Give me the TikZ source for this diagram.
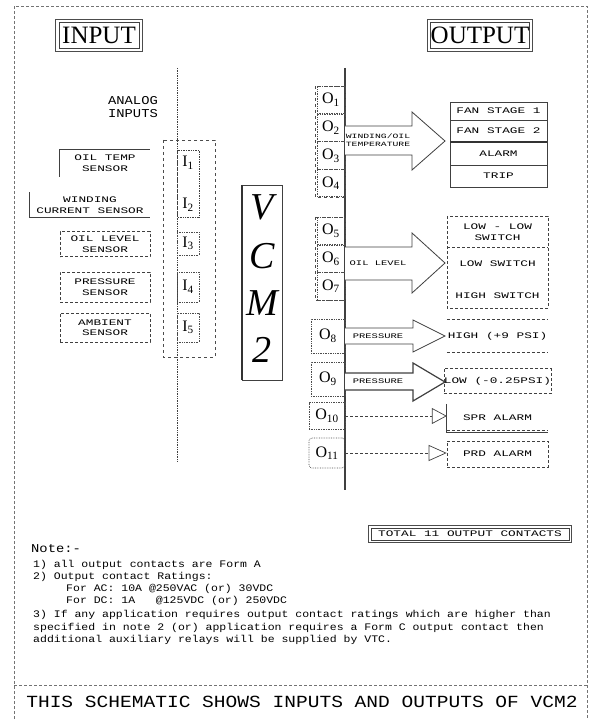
\documentclass[tikz,border=0pt]{standalone}
\usepackage{fontspec}
\setmainfont{Liberation Serif}
\newfontfamily\cadS[FakeStretch=1.5]{Liberation Mono}
\newfontfamily\cadN[FakeStretch=1.15]{Liberation Mono}
\newcommand\fsz[1]{\fontsize{#1}{#1}\selectfont}
\usetikzlibrary{arrows.meta}
\begin{document}
\begin{tikzpicture}[x=1pt,y=-1pt,
  ln/.style={draw=black!75,line width=0.7pt},
  frame/.style={draw=black!55,line width=0.9pt,densely dashed},
  grp/.style={draw=black!70,line width=0.7pt,dashed},
  obox/.style={draw=black!70,line width=0.7pt,densely dotted,minimum width=28pt,minimum height=27.7pt,inner sep=0pt,font=\fsz{16}},
  ilab/.style={inner sep=0pt,font=\fsz{16}},
  small/.style={inner sep=0pt,align=center,font=\cadS\fsz{8.5}},
  tgt/.style={minimum width=97pt,inner sep=0pt,align=center,font=\cadS\fsz{8.5}},
  blk/.style={draw=black!75,line width=0.8pt,fill=white},
  note/.style={anchor=west,inner sep=0pt,font=\cadN\fsz{10}},
  headbox/.style={draw=black!75,line width=0.7pt,minimum height=26pt,inner sep=0pt,font=\fsz{25}},
  outerln/.style={draw=black!70,line width=0.7pt},
  vcm/.style={inner sep=0pt,font=\itshape\fsz{38}},
]
\useasboundingbox (0,0) rectangle (598,719);
% frame
\draw[frame] (14,719) -- (14,6) -- (587,6) -- (587,719);
\draw[frame] (14,685) -- (587,685);
\node[inner sep=0pt,font=\cadN\fsz{17}] (title) at (302,702) {THIS SCHEMATIC SHOWS INPUTS AND OUTPUTS OF VCM2};

% headings
\node[headbox,minimum width=80pt] (inp) at (99,35) {INPUT};
\draw[outerln] ([shift={(-3,-2)}]inp.north west) rectangle ([shift={(3,3)}]inp.south east);
\node[headbox,minimum width=98pt] (outp) at (480,35) {OUTPUT};
\draw[outerln] ([shift={(-3,-2)}]outp.north west) rectangle ([shift={(3,3)}]outp.south east);

% input side
\node[small,font=\cadN\fsz{12},align=center] (analog) at (133,107) {ANALOG\\[1pt]INPUTS};
\draw[ln,densely dotted] (177,68) -- (177,462);
\draw[grp] (163,140) rectangle (215,357);
\draw[ln,densely dotted] (177,150) rectangle (199,217);
\node[ilab] (i1) at (188,163) {I\textsubscript{1}};
\node[ilab] (i2) at (188,205) {I\textsubscript{2}};
\node[obox,minimum width=22pt,minimum height=23pt] (i3) at (188,243.5) {I\textsubscript{3}};
\node[obox,minimum width=22pt,minimum height=30pt] (i4) at (188,287) {I\textsubscript{4}};
\node[obox,minimum width=22pt,minimum height=29pt] (i5) at (188,327.5) {I\textsubscript{5}};

% sensors
\node[small,minimum width=90pt,minimum height=27pt] (s1) at (105,163) {OIL TEMP\\[2pt]SENSOR};
\draw[ln] (s1.south west) -- (s1.north west) -- (s1.north east);
\node[small,minimum width=120pt,minimum height=25pt] (s2) at (90,205) {WINDING\\[2pt]CURRENT SENSOR};
\draw[ln] (s2.north west) -- (s2.south west) -- (s2.south east);
\node[small,draw=black!75,densely dashed,line width=0.7pt,minimum width=90pt,minimum height=25pt] (s3) at (105,244) {OIL LEVEL\\[2pt]SENSOR};
\node[small,draw=black!75,densely dashed,line width=0.7pt,minimum width=90pt,minimum height=30pt] (s4) at (105,287) {PRESSURE\\[2pt]SENSOR};
\node[small,draw=black!75,densely dashed,line width=0.7pt,minimum width=90pt,minimum height=29pt] (s5) at (105,327.5) {AMBIENT\\[2pt]SENSOR};

% VCM2
\draw[ln] (242,185) rectangle (282,380);
\draw[draw=black!80,line width=1.6pt] (242,185) -- (242,380);
\node[vcm] (v) at (262,207) {V};
\node[vcm] (c) at (262,256) {C};
\node[vcm] (m) at (262,303) {M};
\node[vcm] (two) at (262,350) {2};

% output bus
\draw[draw=black!75,line width=1.1pt] (345,68) -- (345,490);
\draw[grp] (315,86) rectangle (345,197);
\draw[grp] (315,217) rectangle (345,300);
\node[obox] (o1) at (331,100) {O\textsubscript{1}};
\node[obox] (o2) at (331,128) {O\textsubscript{2}};
\node[obox] (o3) at (331,155.5) {O\textsubscript{3}};
\node[obox] (o4) at (331,183) {O\textsubscript{4}};
\node[obox] (o5) at (331,231) {O\textsubscript{5}};
\node[obox] (o6) at (331,258.5) {O\textsubscript{6}};
\node[obox] (o7) at (331,286) {O\textsubscript{7}};
\node[obox,minimum width=34pt,minimum height=34pt] (o8) at (328,336) {O\textsubscript{8}};
\node[obox,minimum width=34pt,minimum height=34pt] (o9) at (328,379) {O\textsubscript{9}};
\node[obox,minimum width=36pt,minimum height=27pt] (o10) at (327,416) {O\textsubscript{10}};
\node[obox,minimum width=36pt,minimum height=30pt,rounded corners=3pt] (o11) at (327,453) {O\textsubscript{11}};

% block arrow 1
\draw[blk] (345,126) -- (412,126) -- (412,112) -- (445,141) -- (412,170) -- (412,155) -- (345,155);
\node[small,font=\cadS\fsz{6.5}] (lt) at (378,140) {WINDING/OIL\\[2pt]TEMPERATURE};
\node[tgt,minimum height=18pt] (fan1) at (498.5,111) {FAN STAGE 1};
\node[tgt,minimum height=22pt] (fan2) at (498.5,131) {FAN STAGE 2};
\node[tgt,minimum height=23pt] (alarm) at (498.5,153.5) {ALARM};
\node[tgt,minimum height=22pt] (trip) at (498.5,176) {TRIP};
\draw[ln] (450,102) rectangle (547,187);
\draw[ln] (450,120) -- (547,120);
\draw[draw=black!80,line width=1.2pt] (450,142) -- (547,142);
\draw[ln] (450,165) -- (547,165);

% block arrow 2
\draw[blk] (345,247) -- (412,247) -- (412,233) -- (445,263) -- (412,293) -- (412,280) -- (345,280);
\node[small,font=\cadS\fsz{7}] (lol) at (378,263) {OIL LEVEL};
\draw[ln,densely dashed] (447,216) rectangle (548,308);
\draw[ln,densely dashed] (447,247) -- (548,247);
\node[tgt,minimum width=101pt] (ll) at (497.5,232) {LOW - LOW\\[2pt]SWITCH};
\node[tgt,minimum width=101pt] (lsw) at (497.5,264) {LOW SWITCH};
\node[tgt,minimum width=101pt] (hsw) at (497.5,296) {HIGH SWITCH};

% block arrow 3
\draw[blk] (345,328) -- (413,328) -- (413,320) -- (445,336) -- (413,352) -- (413,344) -- (345,344);
\node[small,font=\cadS\fsz{7}] (lp1) at (378,336) {PRESSURE};
\node[tgt,minimum width=101pt,minimum height=33pt] (hp) at (497.5,336) {HIGH (+9 PSI)};
\draw[ln,densely dashed] (hp.north west) -- (hp.north east);
\draw[ln,densely dashed] (hp.south west) -- (hp.south east);

% block arrow 4
\draw[blk,line width=1.2pt] (345,373) -- (413,373) -- (413,363) -- (445,382) -- (413,401) -- (413,390) -- (345,390);
\node[small,font=\cadS\fsz{7}] (lp2) at (378,381) {PRESSURE};
\node[tgt,minimum width=101pt,minimum height=25pt,draw=black!75,densely dashed,line width=0.7pt] (lp) at (497.5,381) {LOW (-0.25PSI)};

% O10, O11
\node[tgt,minimum width=101pt,minimum height=28pt] (spr) at (497.5,418) {SPR ALARM};
\draw[ln] (spr.north west) -- (spr.south west) -- (spr.south east);
\draw[ln,densely dashed] ([yshift=2pt]spr.south west) -- ([yshift=2pt]spr.south east);
\node[tgt,minimum width=101pt,minimum height=26pt,draw=black!75,densely dashed,line width=0.7pt] (prd) at (497.5,454) {PRD ALARM};
\draw[ln,densely dashed,-{Triangle[open,length=15pt,width=16pt]}] (o10.east) -- (spr.west |- o10.east);
\draw[ln,densely dashed,-{Triangle[open,length=18pt,width=16pt]}] (o11.east) -- (prd.west |- o11.east);

% total
\node[draw=black!75,line width=0.7pt,minimum width=198pt,minimum height=12pt,inner sep=0pt,font=\cadS\fsz{8.5}] (total) at (470,534) {TOTAL 11 OUTPUT CONTACTS};
\draw[outerln] ([shift={(-2,-2)}]total.north west) rectangle ([shift={(2,2)}]total.south east);

% notes
\node[note,font=\cadN\fsz{12}] (n0) at (31,549) {Note:-};
\node[note] (n1) at (33,565) {1) all output contacts are Form A};
\node[note] (n2) at (33,577) {2) Output contact Ratings:};
\node[note] (n3) at (66,589) {For AC: 10A @250VAC (or) 30VDC};
\node[note] (n4) at (66,601) {For DC: 1A \ \ @125VDC (or) 250VDC};
\node[note] (n5) at (33,615) {3) If any application requires output contact ratings which are higher than};
\node[note] (n6) at (33,628) {specified in note 2 (or) application requires a Form C output contact then};
\node[note] (n7) at (33,640) {additional auxiliary relays will be supplied by VTC.};
\end{tikzpicture}
\end{document}
